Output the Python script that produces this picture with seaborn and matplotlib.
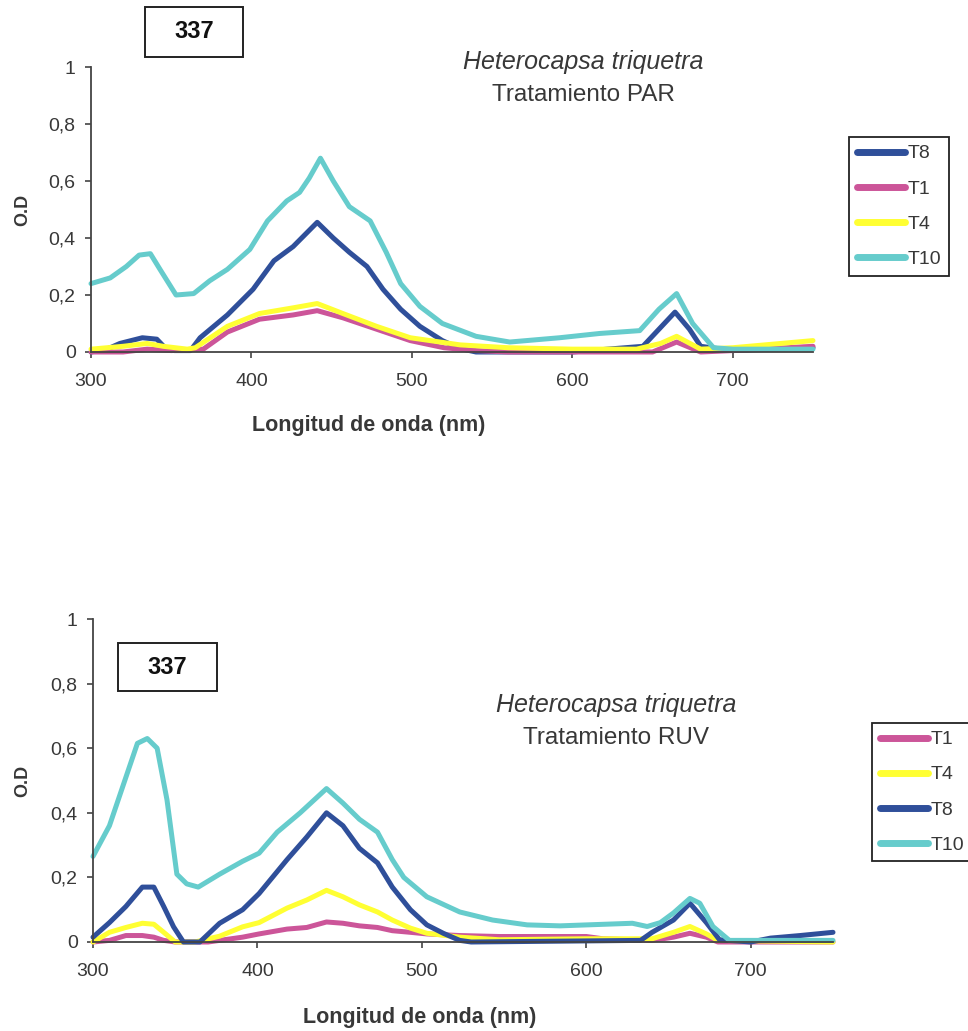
import matplotlib
matplotlib.use("Agg")
import matplotlib.pyplot as plt
import matplotlib.patches as mpatches
import seaborn as sns
import pandas as pd

# ---------------- data: PAR treatment (top) ----------------
par_t8_wl = [300, 310, 318, 332, 341, 347, 352, 362, 368, 385, 401, 414, 426, 441, 451, 461, 472, 482, 493, 505, 519, 530, 540, 600, 644, 654, 664, 673, 680, 700, 750]
par_t8_od = [0.0, 0.01, 0.03, 0.05, 0.045, 0.01, 0.005, 0.005, 0.05, 0.13, 0.22, 0.32, 0.37, 0.455, 0.40, 0.35, 0.30, 0.22, 0.15, 0.09, 0.04, 0.012, 0.0, 0.0, 0.02, 0.08, 0.14, 0.08, 0.02, 0.005, 0.015]

par_t1_wl = [300, 320, 335, 350, 370, 385, 405, 426, 441, 457, 478, 499, 520, 540, 560, 650, 665, 680, 700, 750]
par_t1_od = [0.0, 0.0, 0.01, 0.005, 0.01, 0.07, 0.115, 0.13, 0.145, 0.12, 0.08, 0.04, 0.015, 0.005, 0.0, 0.0, 0.035, 0.0, 0.005, 0.02]

par_t4_wl = [300, 320, 335, 345, 360, 365, 385, 405, 426, 441, 457, 478, 499, 530, 560, 600, 640, 655, 665, 680, 700, 720, 750]
par_t4_od = [0.01, 0.02, 0.03, 0.02, 0.01, 0.015, 0.09, 0.135, 0.155, 0.17, 0.135, 0.09, 0.05, 0.025, 0.015, 0.01, 0.01, 0.03, 0.055, 0.01, 0.015, 0.025, 0.04]

par_t10_wl = [300, 312, 322, 330, 337, 343, 353, 364, 374, 385, 399, 410, 422, 430, 436, 443, 451, 461, 474, 484, 493, 505, 519, 540, 561, 592, 617, 642, 654, 665, 675, 688, 700, 750]
par_t10_od = [0.24, 0.26, 0.30, 0.34, 0.345, 0.29, 0.20, 0.205, 0.25, 0.29, 0.36, 0.46, 0.53, 0.56, 0.61, 0.68, 0.60, 0.51, 0.46, 0.35, 0.24, 0.16, 0.10, 0.055, 0.035, 0.05, 0.065, 0.075, 0.15, 0.205, 0.10, 0.015, 0.01, 0.01]

# ---------------- data: RUV treatment (bottom) ----------------
ruv_t1_wl = [300, 310, 320, 330, 337, 343, 350, 370, 377, 391, 401, 418, 430, 442, 452, 462, 473, 482, 493, 503, 523, 547, 600, 610, 640, 653, 663, 673, 680, 750]
ruv_t1_od = [0.0, 0.005, 0.02, 0.02, 0.015, 0.005, 0.0, 0.0, 0.005, 0.015, 0.025, 0.04, 0.045, 0.062, 0.058, 0.05, 0.045, 0.035, 0.03, 0.025, 0.02, 0.017, 0.017, 0.01, 0.005, 0.015, 0.027, 0.015, 0.0, 0.0]

ruv_t4_wl = [300, 310, 320, 330, 337, 343, 350, 362, 377, 391, 401, 418, 430, 442, 452, 462, 473, 482, 493, 503, 523, 547, 600, 640, 653, 663, 673, 680, 750]
ruv_t4_od = [0.0, 0.03, 0.045, 0.058, 0.055, 0.03, 0.0, 0.0, 0.018, 0.047, 0.06, 0.105, 0.13, 0.16, 0.14, 0.115, 0.093, 0.068, 0.043, 0.027, 0.015, 0.007, 0.01, 0.01, 0.03, 0.048, 0.025, 0.005, 0.0]

ruv_t8_wl = [300, 310, 320, 330, 337, 343, 349, 355, 365, 377, 391, 401, 418, 430, 442, 452, 462, 473, 482, 493, 503, 513, 523, 530, 633, 640, 653, 663, 673, 681, 700, 712, 730, 750]
ruv_t8_od = [0.015, 0.06, 0.11, 0.17, 0.17, 0.11, 0.047, 0.0, 0.0, 0.058, 0.10, 0.15, 0.255, 0.325, 0.40, 0.36, 0.29, 0.245, 0.17, 0.10, 0.053, 0.027, 0.005, 0.0, 0.005, 0.03, 0.068, 0.12, 0.06, 0.007, 0.0, 0.012, 0.02, 0.03]

ruv_t10_wl = [300, 310, 318, 327, 333, 339, 345, 351, 357, 364, 377, 391, 401, 412, 426, 442, 452, 462, 473, 482, 489, 503, 523, 543, 564, 584, 628, 637, 645, 653, 663, 669, 677, 687, 750]
ruv_t10_od = [0.265, 0.36, 0.48, 0.615, 0.63, 0.60, 0.44, 0.21, 0.18, 0.17, 0.21, 0.25, 0.275, 0.34, 0.40, 0.475, 0.43, 0.38, 0.34, 0.255, 0.20, 0.14, 0.093, 0.068, 0.053, 0.05, 0.058, 0.048, 0.06, 0.09, 0.135, 0.12, 0.048, 0.005, 0.005]

par_order = ["T8", "T1", "T4", "T10"]
ruv_order = ["T1", "T4", "T8", "T10"]
colors = {"T1": "#CC5599", "T4": "#FFFF33", "T8": "#2F4F9A", "T10": "#66CCCC"}

y_ticks = [0, 0.2, 0.4, 0.6, 0.8, 1.0]
y_ticklabels = ["0", "0,2", "0,4", "0,6", "0,8", "1"]
x_ticks = [300, 400, 500, 600, 700]
x_ticklabels = ["300", "400", "500", "600", "700"]


def make_df(series):
    rows = []
    for name, wl, od in series:
        for w, o in zip(wl, od):
            rows.append({"serie": name, "wl": w, "od": o})
    return pd.DataFrame(rows)


df_par = make_df([("T8", par_t8_wl, par_t8_od), ("T1", par_t1_wl, par_t1_od),
                  ("T4", par_t4_wl, par_t4_od), ("T10", par_t10_wl, par_t10_od)])
df_ruv = make_df([("T1", ruv_t1_wl, ruv_t1_od), ("T4", ruv_t4_wl, ruv_t4_od),
                  ("T8", ruv_t8_wl, ruv_t8_od), ("T10", ruv_t10_wl, ruv_t10_od)])

sns.set_style("ticks")
plt.rcParams["font.family"] = ["Liberation Sans", "DejaVu Sans"]

W, H = 968, 1031
fig = plt.figure(figsize=(W / 100, H / 100), dpi=100)
txt = "#383838"


def fx(px):
    return px / W


def fy(py):
    return 1 - py / H


def setup_axes(rect_px, df, order, legend_xy, title_xy, title2, box_px, xlabel_pos, ylabel_x):
    l, t, r, b = rect_px
    ax = fig.add_axes([fx(l), fy(b), (r - l) / W, (b - t) / H])
    sns.lineplot(data=df, x="wl", y="od", hue="serie", hue_order=order, palette=colors,
                 sort=False, estimator=None, linewidth=3.6, ax=ax)
    for ln in ax.get_lines():
        ln.set_clip_on(False)
        ln.set_solid_capstyle("round")
    ax.set_xlim(300, 750)
    ax.set_ylim(0, 1)
    ax.set_xticks(x_ticks)
    ax.set_xticklabels(x_ticklabels)
    ax.set_yticks(y_ticks)
    ax.set_yticklabels(y_ticklabels)
    for s in ["top", "right"]:
        ax.spines[s].set_visible(False)
    for s in ["left", "bottom"]:
        ax.spines[s].set_color("#444444")
        ax.spines[s].set_linewidth(1.3)
    ax.tick_params(axis="both", direction="out", length=4, width=1.2, colors="#444444",
                   labelsize=14, labelcolor=txt)
    ax.tick_params(axis="x", pad=11)
    ax.tick_params(axis="y", pad=7)
    ax.set_xlabel("Longitud de onda (nm)", fontsize=15.5, fontweight="bold", color=txt)
    ax.set_ylabel("O.D", fontsize=13, fontweight="bold", color=txt)
    ax.xaxis.set_label_coords(*xlabel_pos)
    ax.yaxis.set_label_coords(ylabel_x, 0.5)

    handles, labels = ax.get_legend_handles_labels()
    if ax.get_legend():
        ax.get_legend().remove()
    for h in handles:
        h.set_linewidth(5)
        h.set_solid_capstyle("round")
    leg = ax.legend(handles, labels, loc="upper left",
                    bbox_to_anchor=(fx(legend_xy[0]), fy(legend_xy[1])),
                    bbox_transform=fig.transFigure, frameon=True, fancybox=False,
                    edgecolor="#222222", framealpha=1, fontsize=14, handlelength=2.5,
                    handletextpad=0.12, labelspacing=0.9, borderpad=0.4, borderaxespad=0)
    leg.get_frame().set_linewidth(1.3)
    for tx in leg.get_texts():
        tx.set_color(txt)

    fig.text(fx(title_xy[0]), fy(title_xy[1]), "Heterocapsa triquetra", ha="center", va="center",
             fontsize=18, fontstyle="italic", color=txt)
    fig.text(fx(title_xy[0]), fy(title_xy[1] + 33), title2, ha="center", va="center",
             fontsize=17.5, color=txt)

    bl, bt, br, bb = box_px
    rect = mpatches.Rectangle((fx(bl), fy(bb)), (br - bl) / W, (bb - bt) / H,
                              transform=fig.transFigure, fill=False, edgecolor="#222222",
                              linewidth=1.4)
    fig.add_artist(rect)
    fig.text(fx((bl + br) / 2), fy((bt + bb) / 2), "337", ha="center", va="center",
             fontsize=17, fontweight="bold", color="#111111",
             family=["Liberation Sans Narrow", "Liberation Sans", "DejaVu Sans"])
    return ax


setup_axes((91, 67, 813, 352), df_par, par_order, (849, 137), (583, 62), "Tratamiento PAR",
           (145, 7, 243, 57), ((369 - 91) / 722, (352 - 415) / 285), (31 - 91) / 722)
setup_axes((93, 619, 833, 942), df_ruv, ruv_order, (872, 723), (616, 705), "Tratamiento RUV",
           (118, 643, 217, 691), ((420 - 93) / 740, (942 - 1007) / 323), (31 - 93) / 740)

fig.savefig("out.png", dpi=100, facecolor="white")
